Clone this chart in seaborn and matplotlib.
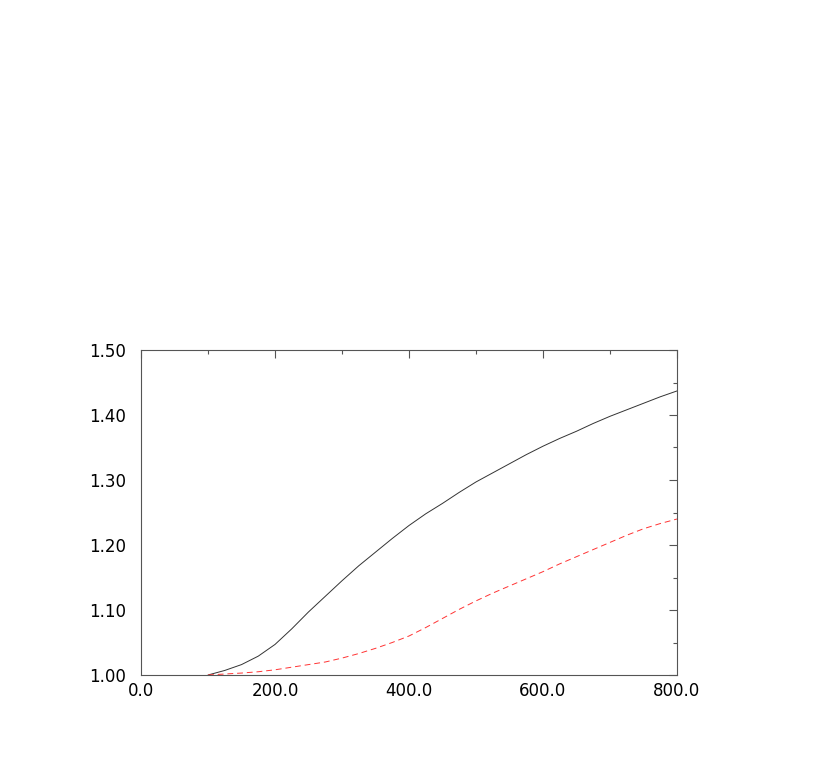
import numpy as np
import pandas as pd
import matplotlib
matplotlib.use('Agg')
import matplotlib.pyplot as plt
from matplotlib.ticker import MultipleLocator, FormatStrFormatter
import seaborn as sns

x = [100, 125, 150, 175, 200, 225, 250, 275, 300, 325, 350, 375, 400, 425, 450, 475,
     500, 525, 550, 575, 600, 625, 650, 675, 700, 725, 750, 775, 800]
solid = [1.000, 1.007, 1.016, 1.029, 1.047, 1.071, 1.097, 1.121, 1.145, 1.168, 1.189,
         1.210, 1.230, 1.248, 1.264, 1.281, 1.297, 1.311, 1.325, 1.339, 1.352, 1.364,
         1.375, 1.387, 1.398, 1.408, 1.418, 1.428, 1.437]
dashed = [1.000, 1.0015, 1.003, 1.005, 1.008, 1.012, 1.016, 1.020, 1.026, 1.033, 1.041,
          1.050, 1.060, 1.073, 1.087, 1.101, 1.114, 1.126, 1.137, 1.148, 1.159, 1.171,
          1.182, 1.193, 1.204, 1.215, 1.225, 1.233, 1.240]

sns.set_style('white')
plt.rcParams['font.family'] = ['DejaVu Sans']

df = pd.DataFrame({'x': x, 'solid': solid, 'dashed': dashed})

fig = plt.figure(figsize=(8.17, 7.63), dpi=100)
ax = fig.add_axes([141 / 817, 88 / 763, 536 / 817, 325 / 763])

sns.lineplot(data=df, x='x', y='solid', ax=ax, color='#333333', lw=0.7)
sns.lineplot(data=df, x='x', y='dashed', ax=ax, color='#ff3333', lw=0.7,
             linestyle=(0, (6, 4)))

ax.set_xlim(0, 800)
ax.set_ylim(1.0, 1.5)
ax.xaxis.set_major_locator(MultipleLocator(200))
ax.xaxis.set_minor_locator(MultipleLocator(100))
ax.yaxis.set_major_locator(MultipleLocator(0.1))
ax.yaxis.set_minor_locator(MultipleLocator(0.05))
ax.xaxis.set_major_formatter(FormatStrFormatter('%.1f'))
ax.yaxis.set_major_formatter(FormatStrFormatter('%.2f'))
ax.set_xlabel('')
ax.set_ylabel('')

ax.tick_params(which='both', direction='in', top=True, right=True,
               color='#555555', width=0.8)
ax.tick_params(which='major', length=6, labelsize=12, labelcolor='black')
ax.tick_params(which='minor', length=3)
ax.tick_params(axis='y', which='major', pad=11)
ax.tick_params(axis='x', which='major', pad=5)
for s in ax.spines.values():
    s.set_color('#555555')
    s.set_linewidth(0.8)

fig.savefig('out.png', dpi=100)
